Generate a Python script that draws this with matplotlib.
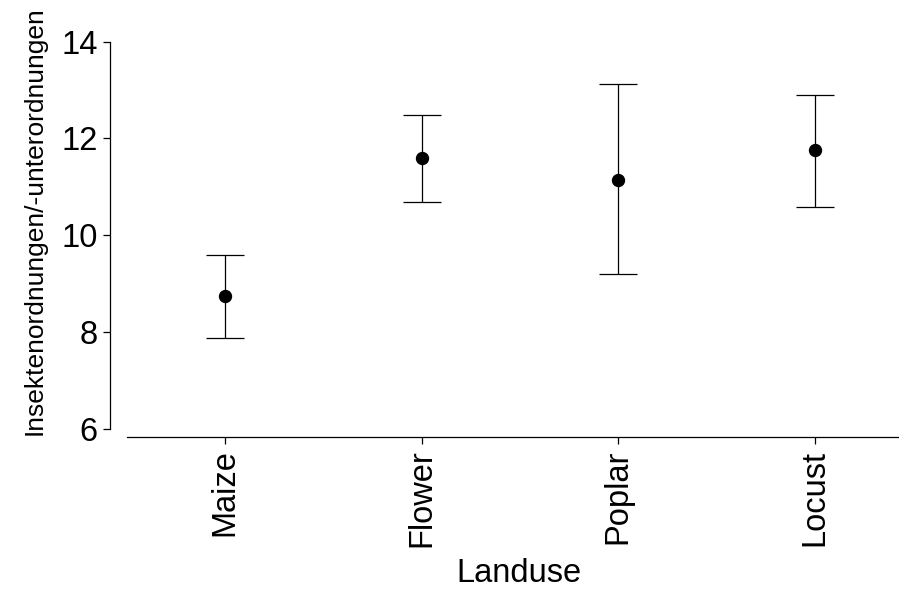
import matplotlib
matplotlib.use('Agg')
import matplotlib.pyplot as plt

plt.rcParams['font.family'] = ['Liberation Sans', 'DejaVu Sans']

landuse = ['Maize', 'Flower', 'Poplar', 'Locust']
means = [8.74, 11.59, 11.15, 11.75]
upper = [9.60, 12.49, 13.12, 12.89]
lower = [7.88, 10.69, 9.19, 10.59]

x = list(range(1, len(landuse) + 1))
err_low = [m - l for m, l in zip(means, lower)]
err_high = [u - m for u, m in zip(upper, means)]

fig = plt.figure(figsize=(8.99, 5.9), dpi=100)
ax = fig.add_axes([127 / 899, 161 / 590, 786 / 899, 387.5 / 590])

ax.errorbar(x, means, yerr=[err_low, err_high], fmt='o', color='black',
            markersize=8.6, elinewidth=0.9, capsize=14, capthick=0.9)

ax.set_xlim(0.5, 4.5)
ax.set_ylim(6, 14)
ax.set_yticks([6, 8, 10, 12, 14])
ax.set_xticks(x)
ax.set_xticklabels(landuse)

for side in ['top', 'right']:
    ax.spines[side].set_visible(False)
ax.spines['left'].set_position(('outward', 12.2))
ax.spines['bottom'].set_position(('outward', 5.8))
ax.spines['left'].set_linewidth(0.9)
ax.spines['bottom'].set_linewidth(0.9)
ax.tick_params(axis='both', labelsize=23.5, length=5, width=0.9, pad=4)
ax.tick_params(axis='x', labelrotation=90)

fig.text(519 / 899, 8 / 590, 'Landuse', fontsize=23.5, ha='center', va='baseline')
fig.text(23 / 899, 1 - 221 / 590, 'Insektenordnungen/-unterordnungen',
         fontsize=19, rotation=90, ha='left', va='center')

plt.savefig('out.png', dpi=100)
